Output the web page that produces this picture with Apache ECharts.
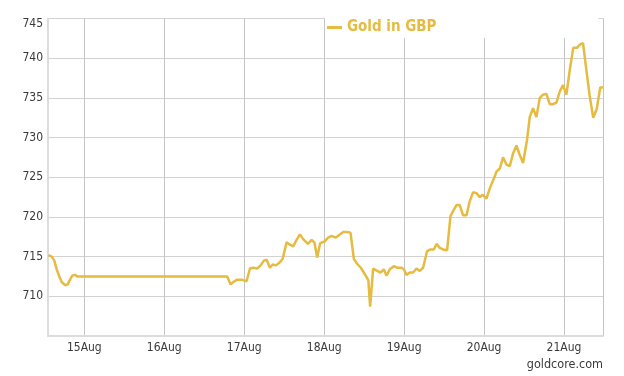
<!DOCTYPE html>
<html>
<head>
<meta charset="utf-8">
<script src="https://cdn.jsdelivr.net/npm/echarts@6/dist/echarts.min.js"></script>
<style>
  html, body { margin: 0; padding: 0; background: #fff; }
  #chart { width: 624px; height: 376px; }
</style>
</head>
<body>
<div id="chart"></div>
<script>
// Gold price in GBP, 14Aug - 21Aug
const times = [
  "2015-08-14 13:12", "2015-08-14 14:13", "2015-08-14 15:00", "2015-08-14 15:43",
  "2015-08-14 16:30", "2015-08-14 17:13", "2015-08-14 18:13", "2015-08-14 19:01",
  "2015-08-14 19:43", "2015-08-14 20:24", "2015-08-14 21:13", "2015-08-14 21:54",
  "2015-08-16 18:54", "2015-08-16 19:55", "2015-08-16 20:42", "2015-08-16 21:54",
  "2015-08-16 23:13", "2015-08-17 00:43", "2015-08-17 01:43", "2015-08-17 02:42",
  "2015-08-17 03:54", "2015-08-17 04:55", "2015-08-17 05:55", "2015-08-17 06:43",
  "2015-08-17 07:43", "2015-08-17 08:31", "2015-08-17 09:31", "2015-08-17 10:43",
  "2015-08-17 11:31", "2015-08-17 12:43", "2015-08-17 13:43", "2015-08-17 14:42",
  "2015-08-17 15:43", "2015-08-17 16:43", "2015-08-17 17:42", "2015-08-17 19:07",
  "2015-08-17 20:13", "2015-08-17 21:04", "2015-08-17 21:54", "2015-08-17 22:48",
  "2015-08-18 00:04", "2015-08-18 01:12", "2015-08-18 02:13", "2015-08-18 03:31",
  "2015-08-18 04:43", "2015-08-18 05:42", "2015-08-18 06:54", "2015-08-18 07:55",
  "2015-08-18 08:55", "2015-08-18 09:54", "2015-08-18 11:00", "2015-08-18 11:54",
  "2015-08-18 12:54", "2015-08-18 13:16", "2015-08-18 13:48", "2015-08-18 14:42",
  "2015-08-18 15:54", "2015-08-18 16:55", "2015-08-18 17:55", "2015-08-18 18:43",
  "2015-08-18 19:43", "2015-08-18 20:55", "2015-08-18 21:54", "2015-08-18 23:13",
  "2015-08-18 23:55", "2015-08-19 00:43", "2015-08-19 01:43", "2015-08-19 02:42",
  "2015-08-19 03:43", "2015-08-19 04:43", "2015-08-19 05:42", "2015-08-19 06:54",
  "2015-08-19 07:55", "2015-08-19 08:55", "2015-08-19 09:43", "2015-08-19 10:43",
  "2015-08-19 11:42", "2015-08-19 12:54", "2015-08-19 13:55", "2015-08-19 14:55",
  "2015-08-19 15:43", "2015-08-19 16:43", "2015-08-19 17:42", "2015-08-19 18:43",
  "2015-08-19 19:43", "2015-08-19 20:42", "2015-08-19 21:43", "2015-08-19 22:43",
  "2015-08-19 23:31", "2015-08-20 00:43", "2015-08-20 01:43", "2015-08-20 02:55",
  "2015-08-20 03:43", "2015-08-20 04:43", "2015-08-20 05:42", "2015-08-20 06:43",
  "2015-08-20 07:43", "2015-08-20 08:42", "2015-08-20 09:43", "2015-08-20 10:43",
  "2015-08-20 11:42", "2015-08-20 12:54", "2015-08-20 13:43", "2015-08-20 14:42",
  "2015-08-20 15:43", "2015-08-20 16:43", "2015-08-20 17:42", "2015-08-20 18:43",
  "2015-08-20 19:43", "2015-08-20 20:42", "2015-08-20 21:43", "2015-08-20 22:43",
  "2015-08-20 23:42", "2015-08-21 00:43", "2015-08-21 01:43", "2015-08-21 02:46",
  "2015-08-21 03:54", "2015-08-21 04:43", "2015-08-21 05:42", "2015-08-21 06:43",
  "2015-08-21 07:43", "2015-08-21 08:46", "2015-08-21 09:49", "2015-08-21 10:52",
  "2015-08-21 11:42"
];

const goldGBP = [
  715.2, 715.0, 714.5, 713.4, 712.5, 711.8, 711.4, 711.5,
  712.1, 712.6, 712.7, 712.5,
  712.5, 711.5, 711.8, 712.1,
  712.1, 711.9, 713.5, 713.6, 713.5, 713.9, 714.5, 714.6,
  713.6, 714.0, 713.9, 714.3, 714.7, 716.8, 716.5, 716.3,
  717.1, 717.8, 717.2, 716.6, 717.1, 716.8, 714.9, 716.7,
  716.9, 717.4, 717.6, 717.4, 717.8, 718.1, 718.1, 718.0,
  714.7, 714.1, 713.6, 713.0, 712.3, 712.0, 708.7, 713.5,
  713.2, 713.0, 713.4, 712.6, 713.4, 713.8, 713.6, 713.6,
  713.4, 712.7, 713.0, 713.0, 713.5, 713.2, 713.6, 715.7,
  715.9, 715.9, 716.6, 716.1, 715.9, 715.8, 720.1, 720.9,
  721.5, 721.5, 720.2, 720.2, 722.0, 723.1, 723.0, 722.5,
  722.8, 722.3, 723.6, 724.8, 725.7, 726.1, 727.5, 726.6,
  726.4, 728.0, 729.0, 727.8, 726.8, 729.7, 732.6, 733.7,
  732.6, 735.0, 735.4, 735.5, 734.2, 734.2, 734.4, 735.8,
  736.6, 735.4, 738.5, 741.3, 741.3, 741.7, 741.9, 738.5,
  735.2, 732.5, 733.6, 736.3, 736.3
];

const yTicks = [705, 710, 715, 720, 725, 730, 735, 740, 745];
const xStart = "2015-08-14 13:06";
const xEnd = "2015-08-21 11:42";

const GOLD = "#e6bb3f";
const VGRID_COL = "#c4c4c4";
const HGRID_COL = "#d2d2d2";
const AXIS_COL = "#dcdcdc";
const TXT = "#3a3a3a";
const FONT = "Tahoma, 'DejaVu Sans Condensed', 'DejaVu Sans', sans-serif";

function ts(s) {
  const [d, t] = s.split(" ");
  const [Y, M, D] = d.split("-").map(Number);
  const [h, m] = t.split(":").map(Number);
  return new Date(Y, M - 1, D, h, m).getTime();
}

const MONTHS = ["Jan", "Feb", "Mar", "Apr", "May", "Jun", "Jul", "Aug", "Sep", "Oct", "Nov", "Dec"];
const DAY = 24 * 3600 * 1000;

const chart = echarts.init(document.getElementById("chart"), null, { renderer: "canvas" });

chart.setOption({
  animation: false,
  backgroundColor: "#fff",
  textStyle: { fontFamily: FONT },
  grid: { left: 48, right: 21, top: 18.5, bottom: 40 },

  // white legend box also hides the top of the grid behind it
  legend: {
    left: 325,
    top: 17,
    padding: [3, 162, 3, 2],
    backgroundColor: "#fff",
    icon: "rect",
    itemWidth: 15,
    itemHeight: 3,
    textStyle: { color: GOLD, fontWeight: "bold", fontSize: 15, fontFamily: FONT },
    data: ["Gold in GBP"]
  },

  xAxis: {
    type: "time",
    min: ts(xStart),
    max: ts(xEnd),
    minInterval: DAY,
    maxInterval: DAY,
    axisLine: { show: true, lineStyle: { color: AXIS_COL, width: 2 } },
    axisTick: { show: false },
    axisLabel: {
      color: TXT,
      fontSize: 12,
      margin: 6,
      hideOverlap: false,
      formatter: function (v) {
        const d = new Date(v);
        return d.getDate() + MONTHS[d.getMonth()];
      }
    },
    splitLine: { show: true, lineStyle: { color: VGRID_COL, width: 1 } }
  },

  yAxis: {
    type: "value",
    min: yTicks[0],
    max: yTicks[yTicks.length - 1],
    interval: 5,
    axisLine: { show: true, lineStyle: { color: AXIS_COL, width: 2 } },
    axisTick: { show: false },
    axisLabel: {
      color: TXT,
      fontSize: 12,
      margin: 5,
      formatter: function (v) {
        if (v === yTicks[0]) return "";
        if (v === yTicks[yTicks.length - 1]) return "{top|" + v + "}";
        return String(v);
      },
      rich: { top: { padding: [11, 0, 0, 0], fontSize: 12, color: TXT } }
    },
    splitLine: { show: true, lineStyle: { color: HGRID_COL, width: 1 } }
  },

  graphic: [{
    type: "text",
    right: 21,
    top: 358,
    style: { text: "goldcore.com", fill: TXT, fontSize: 12.5, fontFamily: FONT }
  }],

  series: [{
    name: "Gold in GBP",
    type: "line",
    data: times.map((t, i) => [ts(t), goldGBP[i]]),
    showSymbol: false,
    symbol: "none",
    lineStyle: { color: GOLD, width: 2.5 },
    itemStyle: { color: GOLD },
    z: 3
  }]
});
</script>
</body>
</html>
